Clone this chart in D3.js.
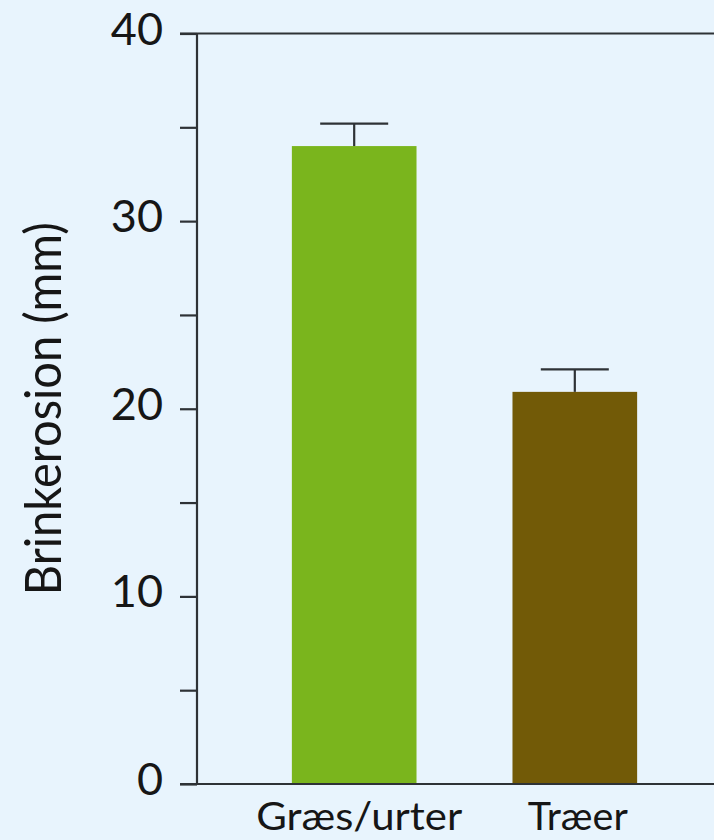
<!DOCTYPE html>
<html>
<head>
<meta charset="utf-8">
<script src="https://cdn.jsdelivr.net/npm/d3@7"></script>
<style>
  html, body { margin: 0; padding: 0; background: #E8F4FD; }
  svg { display: block; }
  text { font-family: Lato, "DejaVu Sans", sans-serif; fill: #161616; }
</style>
</head>
<body>
<svg id="chart" width="714" height="840"></svg>
<script>
// Bank erosion by vegetation type (mean with error bar)
const categories = ["Græs/urter", "Træer"];
const means = [34.0, 20.9];
const errors = [1.2, 1.2];
const barColors = ["#7AB51D", "#725A07"];
const majorTicks = [0, 10, 20, 30, 40];
const minorTicks = [5, 15, 25, 35];
const yLabel = "Brinkerosion (mm)";

const W = 714, H = 840;
const axisX = 197;
const svg = d3.select("#chart");
const ink = "#2e3236";

const y = d3.scaleLinear().domain([0, 40]).range([784, 33.5]);
const x = d3.scaleBand().domain(categories).range([axisX, 732])
  .paddingInner(0.435).paddingOuter(0.43);

// bars
svg.append("g").selectAll("rect").data(categories).join("rect")
  .attr("x", d => x(d))
  .attr("width", x.bandwidth())
  .attr("y", (d, i) => y(means[i]))
  .attr("height", (d, i) => y(0) - y(means[i]))
  .attr("fill", (d, i) => barColors[i]);

// error bars (upper whisker only)
const eb = svg.append("g").attr("stroke", ink).attr("stroke-width", 2.2);
categories.forEach((c, i) => {
  const cx = x(c) + x.bandwidth() / 2;
  eb.append("line").attr("x1", cx).attr("x2", cx)
    .attr("y1", y(means[i])).attr("y2", y(means[i] + errors[i]));
  eb.append("line").attr("x1", cx - 34).attr("x2", cx + 34)
    .attr("y1", y(means[i] + errors[i])).attr("y2", y(means[i] + errors[i]));
});

// y axis with major and minor ticks, labels drawn separately
const yAxis = d3.axisLeft(y).tickValues(majorTicks.concat(minorTicks))
  .tickSize(17).tickFormat("");
const ga = svg.append("g").attr("transform", `translate(${axisX},0)`).call(yAxis);
ga.select(".domain").remove();
ga.selectAll(".tick line").attr("stroke", ink).attr("stroke-width", 2.2);

svg.append("line").attr("x1", axisX).attr("x2", axisX)
  .attr("y1", y(40)).attr("y2", y(0))
  .attr("stroke", ink).attr("stroke-width", 2.2);
// top and bottom frame lines
[0, 40].forEach(v => {
  svg.append("line").attr("x1", axisX - 17).attr("x2", W)
    .attr("y1", y(v)).attr("y2", y(v))
    .attr("stroke", ink).attr("stroke-width", 2.2);
});

// tick labels
svg.append("g").selectAll("text").data(majorTicks).join("text")
  .attr("x", 163)
  .attr("y", d => y(d) + 11)
  .attr("text-anchor", "end")
  .style("font-size", "45px")
  .text(d => d);

// category labels
svg.append("g").selectAll("text").data(categories).join("text")
  .attr("x", d => x(d) + x.bandwidth() / 2 + (d === categories[0] ? 5 : 3))
  .attr("y", 830)
  .attr("text-anchor", "middle")
  .attr("textLength", (d, i) => i === 0 ? 206 : 100)
  .attr("lengthAdjust", "spacingAndGlyphs")
  .style("font-size", "38px")
  .text(d => d);

// y axis title
svg.append("text")
  .attr("transform", `translate(61,${y(20)}) rotate(-90)`)
  .attr("text-anchor", "middle")
  .attr("textLength", 373)
  .attr("lengthAdjust", "spacingAndGlyphs")
  .style("font-size", "51px")
  .text(yLabel);
</script>
</body>
</html>
